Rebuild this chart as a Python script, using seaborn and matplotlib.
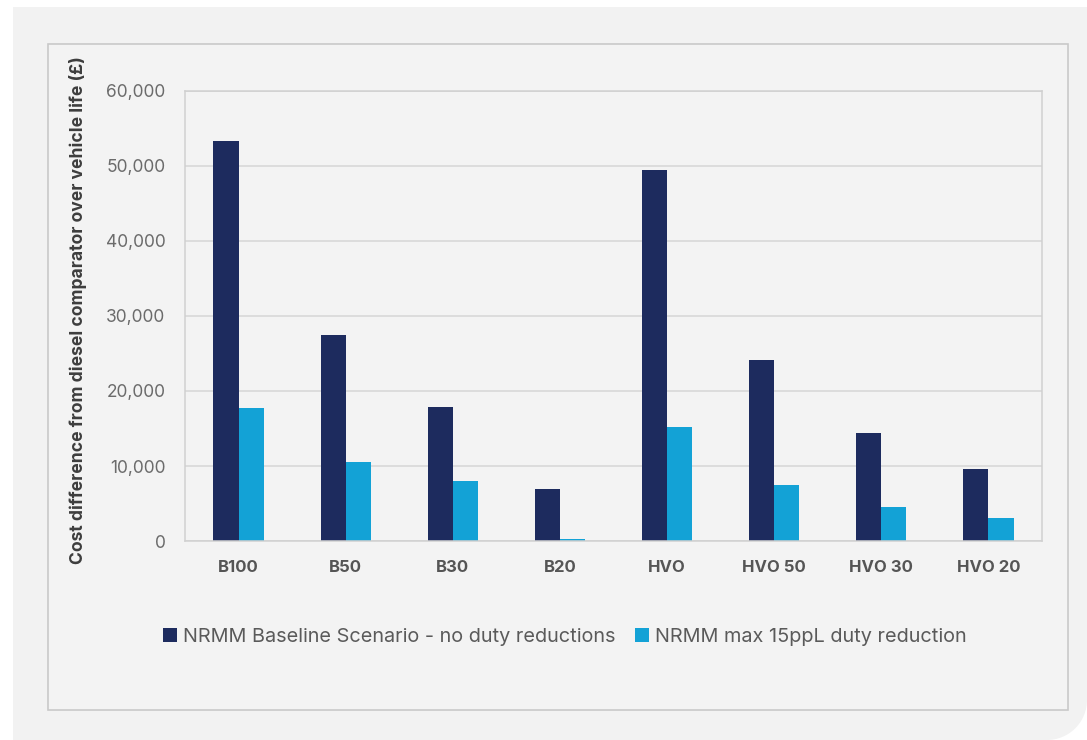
import matplotlib
matplotlib.use("Agg")
import matplotlib.pyplot as plt
from matplotlib.patches import Rectangle, Ellipse
from matplotlib.ticker import FuncFormatter
import seaborn as sns
import pandas as pd

# Fuel blends and lifetime cost difference vs diesel (GBP)
fuels = ["B100", "B50", "B30", "B20", "HVO", "HVO 50", "HVO 30", "HVO 20"]
baseline = [53300, 27500, 17900, 7000, 49500, 24200, 14400, 9600]
duty_cut = [17700, 10500, 8000, 300, 15200, 7500, 4600, 3100]
series_names = ["NRMM Baseline Scenario - no duty reductions",
                "NRMM max 15ppL duty reduction"]
y_ticks = [0, 10000, 20000, 30000, 40000, 50000, 60000]
y_label = "Cost difference from diesel comparator over vehicle life (£)"

df = pd.DataFrame({
    "fuel": fuels * 2,
    "cost": baseline + duty_cut,
    "scenario": [series_names[0]] * len(fuels) + [series_names[1]] * len(fuels),
})

sns.set_theme(style="white")
plt.rcParams["font.family"] = ["Inter", "DejaVu Sans"]

W, H = 1087, 740
fig = plt.figure(figsize=(W / 100, H / 100), dpi=100, facecolor="white")

bg = "#f2f2f2"


def fx(px):
    return px / W


def fy(py):
    return 1 - py / H


# Grey card with a rounded lower-right corner
r = 40
fig.patches.append(Rectangle((fx(13), fy(740)), fx(1087 - r - 13), 733 / H,
                             transform=fig.transFigure, facecolor=bg, edgecolor="none", zorder=0))
fig.patches.append(Rectangle((fx(13), fy(740 - r)), fx(1087 - 13), (733 - r) / H,
                             transform=fig.transFigure, facecolor=bg, edgecolor="none", zorder=0))
fig.patches.append(Ellipse((fx(1087 - r), fy(740 - r)), 2 * r / W, 2 * r / H,
                           transform=fig.transFigure, facecolor=bg, edgecolor="none", zorder=0))
# Chart frame
fig.patches.append(Rectangle((fx(48), fy(710)), fx(1068 - 48), (710 - 44) / H,
                             transform=fig.transFigure, facecolor="#f3f3f3",
                             edgecolor="#c9c9c9", linewidth=1.2, zorder=1))

ax = fig.add_axes([fx(185), fy(541), fx(1042 - 185), (541 - 91) / H])
ax.set_facecolor("#f3f3f3")
ax.set_zorder(2)

palette = ["#1d2b5e", "#13a2d6"]
sns.barplot(data=df, x="fuel", y="cost", hue="scenario", order=fuels,
            hue_order=series_names, palette=palette, width=0.47,
            saturation=1, linewidth=0, ax=ax, legend=True, errorbar=None)

ax.set_ylim(0, 60000)
ax.set_yticks(y_ticks)
ax.yaxis.set_major_formatter(FuncFormatter(lambda v, p: f"{int(v):,}"))
ax.set_xlim(-0.5, len(fuels) - 0.5)
ax.grid(axis="y", color="#d6d6d6", linewidth=1.1)
ax.set_axisbelow(True)
for s in ax.spines.values():
    s.set_color("#d0d0d0")
    s.set_linewidth(1.1)

ax.tick_params(axis="y", length=0, pad=14, labelsize=12.5, labelcolor="#6b6b6b")
ax.tick_params(axis="x", length=0, pad=14, labelsize=12, labelcolor="#555555")
for t in ax.get_xticklabels():
    t.set_fontweight("bold")

ax.set_xlabel("")
ax.set_ylabel("")
fig.text(fx(78), fy(310), y_label, rotation=90, ha="center", va="center",
         fontsize=12.6, fontweight="bold", color="#3d3d3d")

ax.legend_.remove()
handles, labels = ax.get_legend_handles_labels()
fig.legend(handles, labels, loc="center", bbox_to_anchor=(fx(565), fy(637)),
           ncol=2, frameon=False, fontsize=14.3, labelcolor="#5a5a5a",
           handlelength=0.7, handleheight=0.7, handletextpad=0.3,
           columnspacing=1.0)

fig.savefig("out.png", dpi=100, facecolor="white")
